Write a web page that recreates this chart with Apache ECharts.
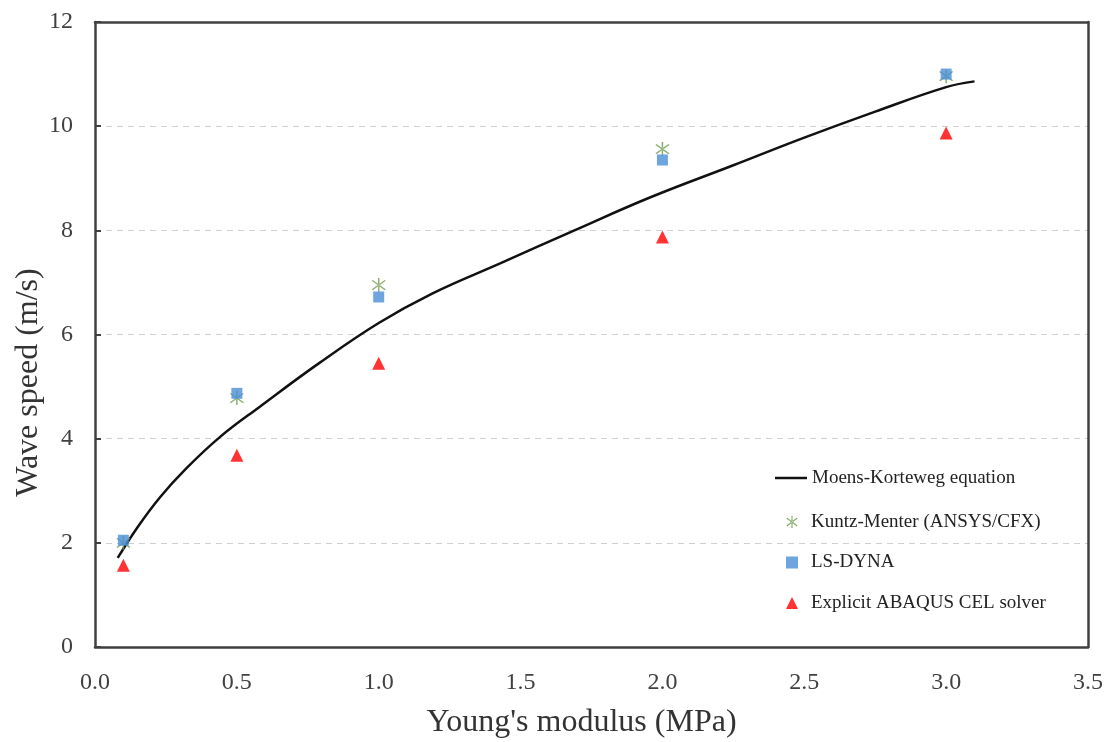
<!DOCTYPE html>
<html>
<head>
<meta charset="utf-8">
<script src="https://cdn.jsdelivr.net/npm/echarts@6/dist/echarts.min.js"></script>
<style>html,body{margin:0;padding:0;background:#fff;}#chart{width:1108px;height:742px;}</style>
</head>
<body>
<div id="chart"></div>
<script>
// Moens-Korteweg curve
const mkX = [0.08, 0.15, 0.23, 0.32, 0.44, 0.58, 0.79, 1.0, 1.19, 1.43, 1.69, 1.96, 2.25, 2.5, 2.75, 3.0, 3.1];
const mkY = [1.71, 2.3, 2.88, 3.42, 4.03, 4.61, 5.45, 6.22, 6.79, 7.37, 8.0, 8.64, 9.25, 9.78, 10.28, 10.75, 10.86];
// Simulation points
const simX = [0.1, 0.5, 1.0, 2.0, 3.0];
const kuntzY = [2.0, 4.78, 6.95, 9.56, 10.96];
const lsdynaY = [2.05, 4.87, 6.72, 9.35, 11.0];
const abaqusY = [1.57, 3.68, 5.45, 7.87, 9.87];
const seriesNames = ['Moens-Korteweg equation', 'Kuntz-Menter (ANSYS/CFX)', 'LS-DYNA', 'Explicit ABAQUS CEL solver'];

const pair = (xs, ys) => xs.map((x, i) => [x, ys[i]]);
const asterisk = 'path://M-0.6,-6L0.6,-6L0.6,6L-0.6,6Z M-5.6,-3.6L-4.8,-4.4L5.6,3.6L4.8,4.4Z M5.6,-3.6L4.8,-4.4L-5.6,3.6L-4.8,4.4Z';
const font = '"Liberation Serif", "Times New Roman", serif';
const frame = { show: true, onZero: false, lineStyle: { color: '#404040', width: 2.5 } };

const chart = echarts.init(document.getElementById('chart'));
chart.setOption({
  backgroundColor: '#fff',
  animation: false,
  textStyle: { fontFamily: font },
  grid: { left: 95, right: 20, top: 22, bottom: 95, containLabel: false, outerBoundsMode: 'none' },
  legend: [
    {
      data: [{ name: seriesNames[0], icon: 'rect' }],
      left: 770, top: 463,
      itemWidth: 32, itemHeight: 2.5,
      textStyle: { fontFamily: font, fontSize: 19, color: '#222', lineHeight: 20 }
    },
    {
      data: seriesNames.slice(1),
      orient: 'vertical',
      left: 781, top: 507,
      itemWidth: 12, itemHeight: 12, itemGap: 20.5,
      formatter: n => '{g|}{t|' + n + '}',
      textStyle: {
        fontFamily: font, fontSize: 19, color: '#222', lineHeight: 20,
        rich: { g: { width: 8 }, t: { fontFamily: font, fontSize: 19, color: '#222' } }
      }
    }
  ],
  xAxis: [
    {
      type: 'value', min: 0, max: 3.5, interval: 0.5,
      name: "Young's modulus (MPa)", nameLocation: 'middle', nameGap: 60,
      nameTextStyle: { fontFamily: font, fontSize: 32, color: '#333', padding: [0, 20, 0, 0] },
      axisLine: frame,
      axisTick: { show: false },
      axisLabel: { formatter: v => v.toFixed(1), fontFamily: font, fontSize: 24, color: '#404040', margin: 24 },
      splitLine: { show: false }
    },
    {
      type: 'value', min: 0, max: 3.5, interval: 0.5, position: 'top',
      axisLine: frame, axisTick: { show: false }, axisLabel: { show: false }, splitLine: { show: false }
    }
  ],
  yAxis: [
    {
      type: 'value', min: 0, max: 12, interval: 2,
      name: 'Wave speed (m/s)', nameLocation: 'middle', nameGap: 50, nameMoveOverlap: false,
      nameTextStyle: { fontFamily: font, fontSize: 32, color: '#333', padding: [0, 96, 0, 0] },
      axisLine: frame,
      axisTick: { show: true, inside: true, length: 6, lineStyle: { color: '#404040', width: 2 } },
      axisLabel: { fontFamily: font, fontSize: 24, color: '#404040', margin: 22 },
      splitLine: { show: true, lineStyle: { color: '#d0d0d0', type: [6, 5], width: 1 } }
    },
    {
      type: 'value', min: 0, max: 12, interval: 2, position: 'right',
      axisLine: frame, axisTick: { show: false }, axisLabel: { show: false }, splitLine: { show: false }
    }
  ],
  series: [
    {
      name: seriesNames[0], type: 'line', data: pair(mkX, mkY), smooth: 0.4,
      symbol: 'none', lineStyle: { color: '#111', width: 2.5 }, itemStyle: { color: '#111' }, z: 2
    },
    {
      name: seriesNames[1], type: 'scatter', data: pair(simX, kuntzY),
      symbol: asterisk, symbolSize: 14, itemStyle: { color: '#6f9a4e' }, z: 3
    },
    {
      name: seriesNames[2], type: 'scatter', data: pair(simX, lsdynaY),
      symbol: 'rect', symbolSize: 11, itemStyle: { color: '#4a8fd6' }, z: 4
    },
    {
      name: seriesNames[3], type: 'scatter', data: pair(simX, abaqusY),
      symbol: 'triangle', symbolSize: 13, itemStyle: { color: '#ff0000' }, z: 5
    }
  ]
});
</script>
</body>
</html>
